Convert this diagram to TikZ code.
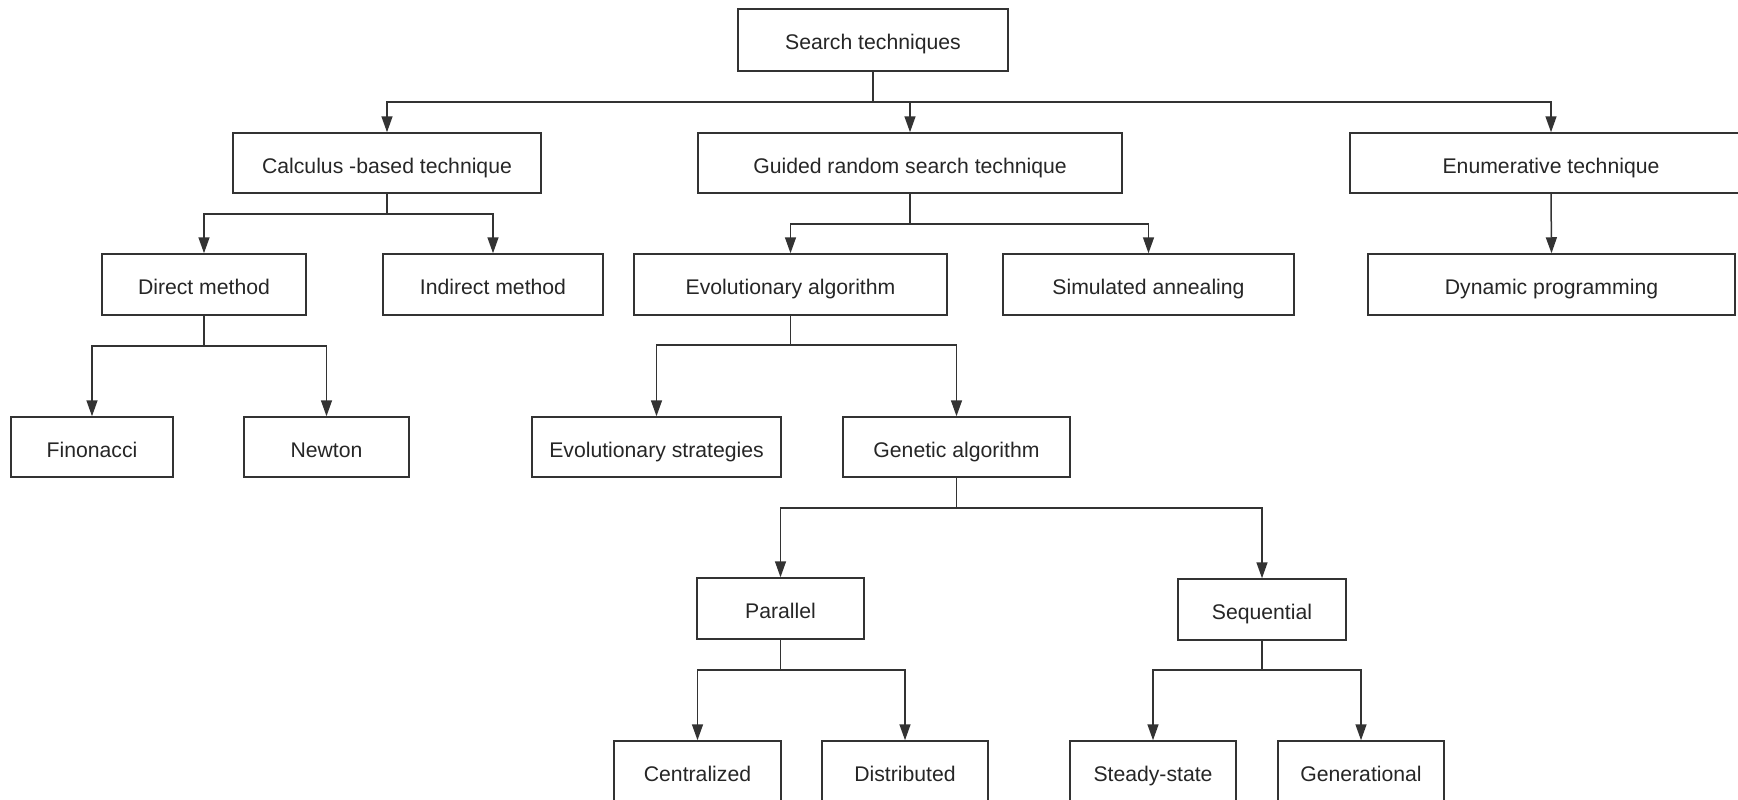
\documentclass[tikz,border=0pt]{standalone}
\usepackage{fontspec}
\setmainfont{Liberation Sans}
\usetikzlibrary{arrows.meta}
\definecolor{ink}{HTML}{333333}
\definecolor{txt}{HTML}{262626}
\tikzset{
  box/.style={draw=ink, line width=1.5pt, rectangle, inner sep=0pt, text=txt,
    text height=21pt, text depth=1pt,
    font=\fontsize{21.2}{25}\selectfont},
  conn/.style={draw=ink, line width=1.5pt},
  arr/.style={conn, -{Triangle[width=11pt,length=16pt]}}
}
\begin{document}
\begin{tikzpicture}[x=1pt,y=-1pt]
\useasboundingbox (0,0) rectangle (1738,800);
\fill[white] (0,0) rectangle (1738,800);
\clip (0,0) rectangle (1738,800);
% boxes
\node[box, minimum width=270pt, minimum height=62pt] (st) at (873,40) {Search techniques};
\node[box, minimum width=308pt, minimum height=60pt] (cb) at (387,163) {Calculus -based technique};
\node[box, minimum width=424pt, minimum height=60pt] (gr) at (910,163) {Guided random search technique};
\node[box, minimum width=402pt, minimum height=60pt] (en) at (1551,163) {Enumerative technique};
\node[box, minimum width=204pt, minimum height=61pt] (dm) at (204,284.5) {Direct method};
\node[box, minimum width=220pt, minimum height=61pt] (im) at (493,284.5) {Indirect method};
\node[box, minimum width=313pt, minimum height=61pt] (ea) at (790.5,284.5) {Evolutionary algorithm};
\node[box, minimum width=291pt, minimum height=61pt] (sa) at (1148.5,284.5) {Simulated annealing};
\node[box, minimum width=367pt, minimum height=61pt] (dp) at (1551.5,284.5) {Dynamic programming};
\node[box, minimum width=162pt, minimum height=60pt] (fi) at (92,447) {Finonacci};
\node[box, minimum width=165pt, minimum height=60pt] (nw) at (326.5,447) {Newton};
\node[box, minimum width=249pt, minimum height=60pt] (es) at (656.5,447) {Evolutionary strategies};
\node[box, minimum width=227pt, minimum height=60pt] (ga) at (956.5,447) {Genetic algorithm};
\node[box, minimum width=167pt, minimum height=61pt] (pa) at (780.5,608.5) {Parallel};
\node[box, minimum width=168pt, minimum height=61pt] (sq) at (1262,609.5) {Sequential};
\node[box, minimum width=167pt, minimum height=61pt] (ce) at (697.5,771.5) {Centralized};
\node[box, minimum width=166pt, minimum height=61pt] (di) at (905,771.5) {Distributed};
\node[box, minimum width=166pt, minimum height=61pt] (ss) at (1153,771.5) {Steady-state};
\node[box, minimum width=166pt, minimum height=61pt] (ge) at (1361,771.5) {Generational};
% bus levels
\coordinate (b0) at (0,102);
\coordinate (b1) at (0,214);
\coordinate (b2) at (0,224);
\coordinate (b3) at (0,346);
\coordinate (b4) at (0,345);
\coordinate (b5) at (0,508);
\coordinate (b6) at (0,670);
\coordinate (b7) at (0,670);
% connectors
\foreach \c in {cb,gr,en}{\draw[arr] (st.south) -- (st.south |- b0) -| (\c.north);}
\foreach \c in {dm,im}{\draw[arr] (cb.south) -- (cb.south |- b1) -| (\c.north);}
\foreach \c in {ea,sa}{\draw[arr] (gr.south) -- (gr.south |- b2) -| (\c.north);}
\draw[arr] (en.south) -- (dp.north);
\foreach \c in {fi,nw}{\draw[arr] (dm.south) -- (dm.south |- b3) -| (\c.north);}
\foreach \c in {es,ga}{\draw[arr] (ea.south) -- (ea.south |- b4) -| (\c.north);}
\foreach \c in {pa,sq}{\draw[arr] (ga.south) -- (ga.south |- b5) -| (\c.north);}
\foreach \c in {ce,di}{\draw[arr] (pa.south) -- (pa.south |- b6) -| (\c.north);}
\foreach \c in {ss,ge}{\draw[arr] (sq.south) -- (sq.south |- b7) -| (\c.north);}
\end{tikzpicture}
\end{document}
